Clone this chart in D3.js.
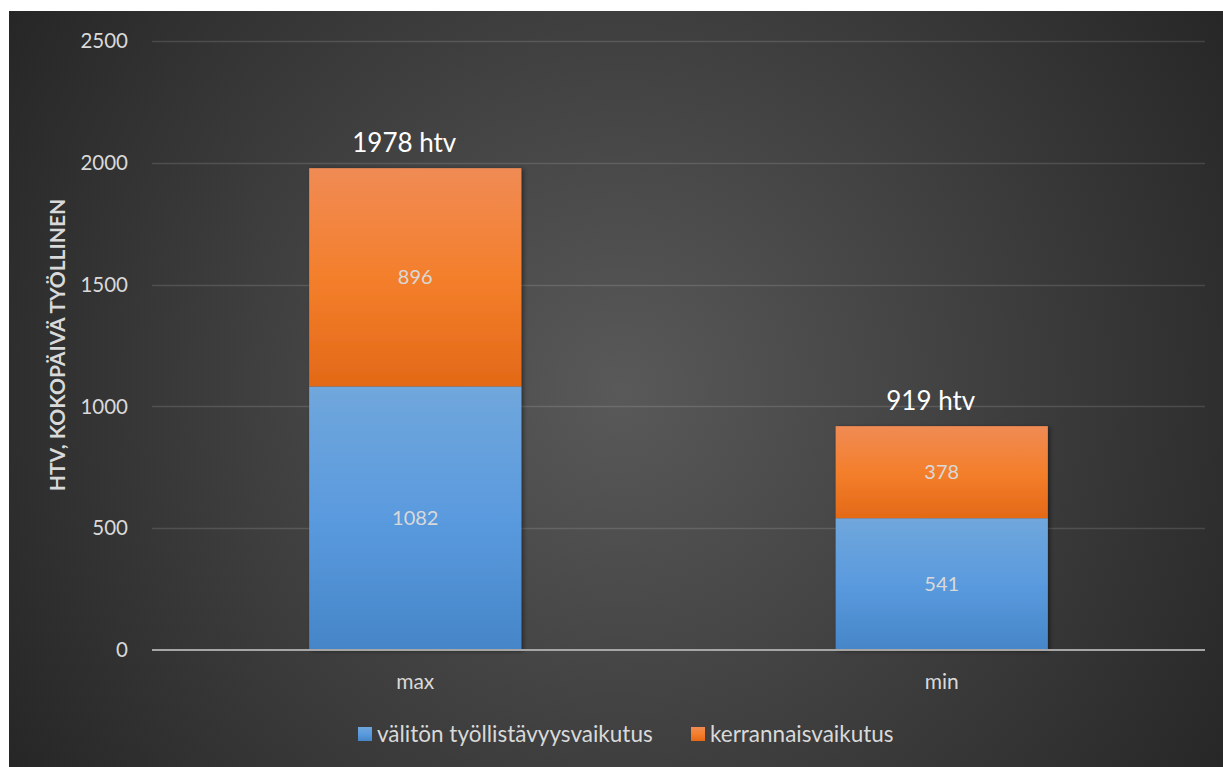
<!DOCTYPE html>
<html>
<head>
<meta charset="utf-8">
<script src="https://cdnjs.cloudflare.com/ajax/libs/d3/7.8.5/d3.min.js"></script>
<style>
  html, body { margin: 0; padding: 0; background: #ffffff; }
  svg { display: block; }
  text { font-family: Lato, "Open Sans", sans-serif; }
</style>
</head>
<body>
<script>
// Chart data
const categories = ["max", "min"];
const directValues = [1082, 541];        // välitön työllistävyysvaikutus
const multiplierValues = [896, 378];     // kerrannaisvaikutus
const yTicks = [0, 500, 1000, 1500, 2000, 2500];
const seriesNames = ["välitön työllistävyysvaikutus", "kerrannaisvaikutus"];
const axisTitle = "HTV, KOKOPÄIVÄ TYÖLLINEN";
const totalSuffix = " htv";

const W = 1223, H = 767;
const svg = d3.select("body").append("svg").attr("width", W).attr("height", H);
const defs = svg.append("defs");

// Dark radial background
const bg = defs.append("radialGradient").attr("id", "bg")
  .attr("gradientUnits", "userSpaceOnUse")
  .attr("cx", 620).attr("cy", 390).attr("r", 720);
bg.append("stop").attr("offset", "0%").attr("stop-color", "#595959");
bg.append("stop").attr("offset", "100%").attr("stop-color", "#262626");

const gBlue = defs.append("linearGradient").attr("id", "gBlue").attr("x1", 0).attr("y1", 0).attr("x2", 0).attr("y2", 1);
gBlue.append("stop").attr("offset", "0%").attr("stop-color", "#70a7dc");
gBlue.append("stop").attr("offset", "50%").attr("stop-color", "#5a9ade");
gBlue.append("stop").attr("offset", "100%").attr("stop-color", "#4586c8");

const gOrange = defs.append("linearGradient").attr("id", "gOrange").attr("x1", 0).attr("y1", 0).attr("x2", 0).attr("y2", 1);
gOrange.append("stop").attr("offset", "0%").attr("stop-color", "#f08b55");
gOrange.append("stop").attr("offset", "50%").attr("stop-color", "#f47f2c");
gOrange.append("stop").attr("offset", "100%").attr("stop-color", "#e36917");

const shadow = defs.append("filter").attr("id", "shadow")
  .attr("x", "-10%").attr("y", "-10%").attr("width", "130%").attr("height", "130%");
shadow.append("feDropShadow").attr("dx", 2).attr("dy", 1).attr("stdDeviation", 2)
  .attr("flood-color", "#000").attr("flood-opacity", 0.45);

svg.append("rect").attr("x", 9).attr("y", 11).attr("width", W - 9).attr("height", H - 11)
  .attr("fill", "url(#bg)");

// Scales
const x = d3.scaleBand().domain(categories).range([152, 1205])
  .paddingInner(0.597).paddingOuter(0.2985);
const y = d3.scaleLinear().domain([0, 2500]).range([650, 41]);

// Gridlines
svg.append("g").selectAll("line").data(yTicks.filter(d => d > 0)).join("line")
  .attr("x1", 152).attr("x2", 1205)
  .attr("y1", d => Math.round(y(d)) + 0.5).attr("y2", d => Math.round(y(d)) + 0.5)
  .attr("stroke", "rgba(255,255,255,0.13)").attr("stroke-width", 1.5);

// Y axis tick labels
svg.append("g").selectAll("text").data(yTicks).join("text")
  .attr("x", 128).attr("y", d => y(d)).attr("dy", "0.35em")
  .attr("text-anchor", "end").attr("fill", "#d9d9d9")
  .style("font-size", "20.5px").text(d => d);

// Axis title
svg.append("text")
  .attr("transform", `translate(65,${345}) rotate(-90)`)
  .attr("text-anchor", "middle").attr("fill", "#d9d9d9")
  .style("font-size", "21px").style("font-weight", "bold")
  .text(axisTitle);

// Stacked bars
const rows = categories.map((c, i) => ({ cat: c, a: directValues[i], b: multiplierValues[i] }));
const bars = svg.append("g").attr("filter", "url(#shadow)");
bars.selectAll("rect.direct").data(rows).join("rect").attr("class", "direct")
  .attr("x", d => x(d.cat)).attr("width", x.bandwidth())
  .attr("y", d => y(d.a)).attr("height", d => y(0) - y(d.a))
  .attr("fill", "url(#gBlue)");
bars.selectAll("rect.mult").data(rows).join("rect").attr("class", "mult")
  .attr("x", d => x(d.cat)).attr("width", x.bandwidth())
  .attr("y", d => y(d.a + d.b)).attr("height", d => y(d.a) - y(d.a + d.b))
  .attr("fill", "url(#gOrange)");

// X axis baseline
svg.append("line").attr("x1", 152).attr("x2", 1205).attr("y1", 650).attr("y2", 650)
  .attr("stroke", "#a6a6a6").attr("stroke-width", 2);

// Segment value labels
const lab = svg.append("g").attr("fill", "#d9d9d9").attr("text-anchor", "middle").style("font-size", "20px");
lab.selectAll("text.la").data(rows).join("text").attr("class", "la")
  .attr("x", d => x(d.cat) + x.bandwidth() / 2).attr("y", d => y(d.a / 2)).attr("dy", "0.35em")
  .text(d => d.a);
lab.selectAll("text.lb").data(rows).join("text").attr("class", "lb")
  .attr("x", d => x(d.cat) + x.bandwidth() / 2).attr("y", d => y(d.a + d.b / 2)).attr("dy", "0.35em")
  .text(d => d.b);

// Totals above bars, set slightly left of the bar centre
svg.append("g").selectAll("text").data(rows).join("text")
  .attr("x", d => x(d.cat) + x.bandwidth() / 2 - 11).attr("y", d => y(d.a + d.b) - 16)
  .attr("text-anchor", "middle").attr("fill", "#ffffff").style("font-size", "26px")
  .text(d => (d.a + d.b) + totalSuffix);

// Category labels
svg.append("g").selectAll("text").data(categories).join("text")
  .attr("x", d => x(d) + x.bandwidth() / 2).attr("y", 682).attr("dy", "0.35em")
  .attr("text-anchor", "middle").attr("fill", "#d9d9d9").style("font-size", "21px")
  .text(d => d);

// Legend
const legend = svg.append("g");
const legendItems = [
  { name: seriesNames[0], fill: "url(#gBlue)", x: 358 },
  { name: seriesNames[1], fill: "url(#gOrange)", x: 691 }
];
const li = legend.selectAll("g").data(legendItems).join("g")
  .attr("transform", d => `translate(${d.x},734)`);
li.append("rect").attr("x", 0).attr("y", -7).attr("width", 14).attr("height", 14).attr("fill", d => d.fill);
li.append("text").attr("x", 19).attr("dy", "0.35em").attr("fill", "#d9d9d9")
  .style("font-size", "22.5px").text(d => d.name);
</script>
</body>
</html>
